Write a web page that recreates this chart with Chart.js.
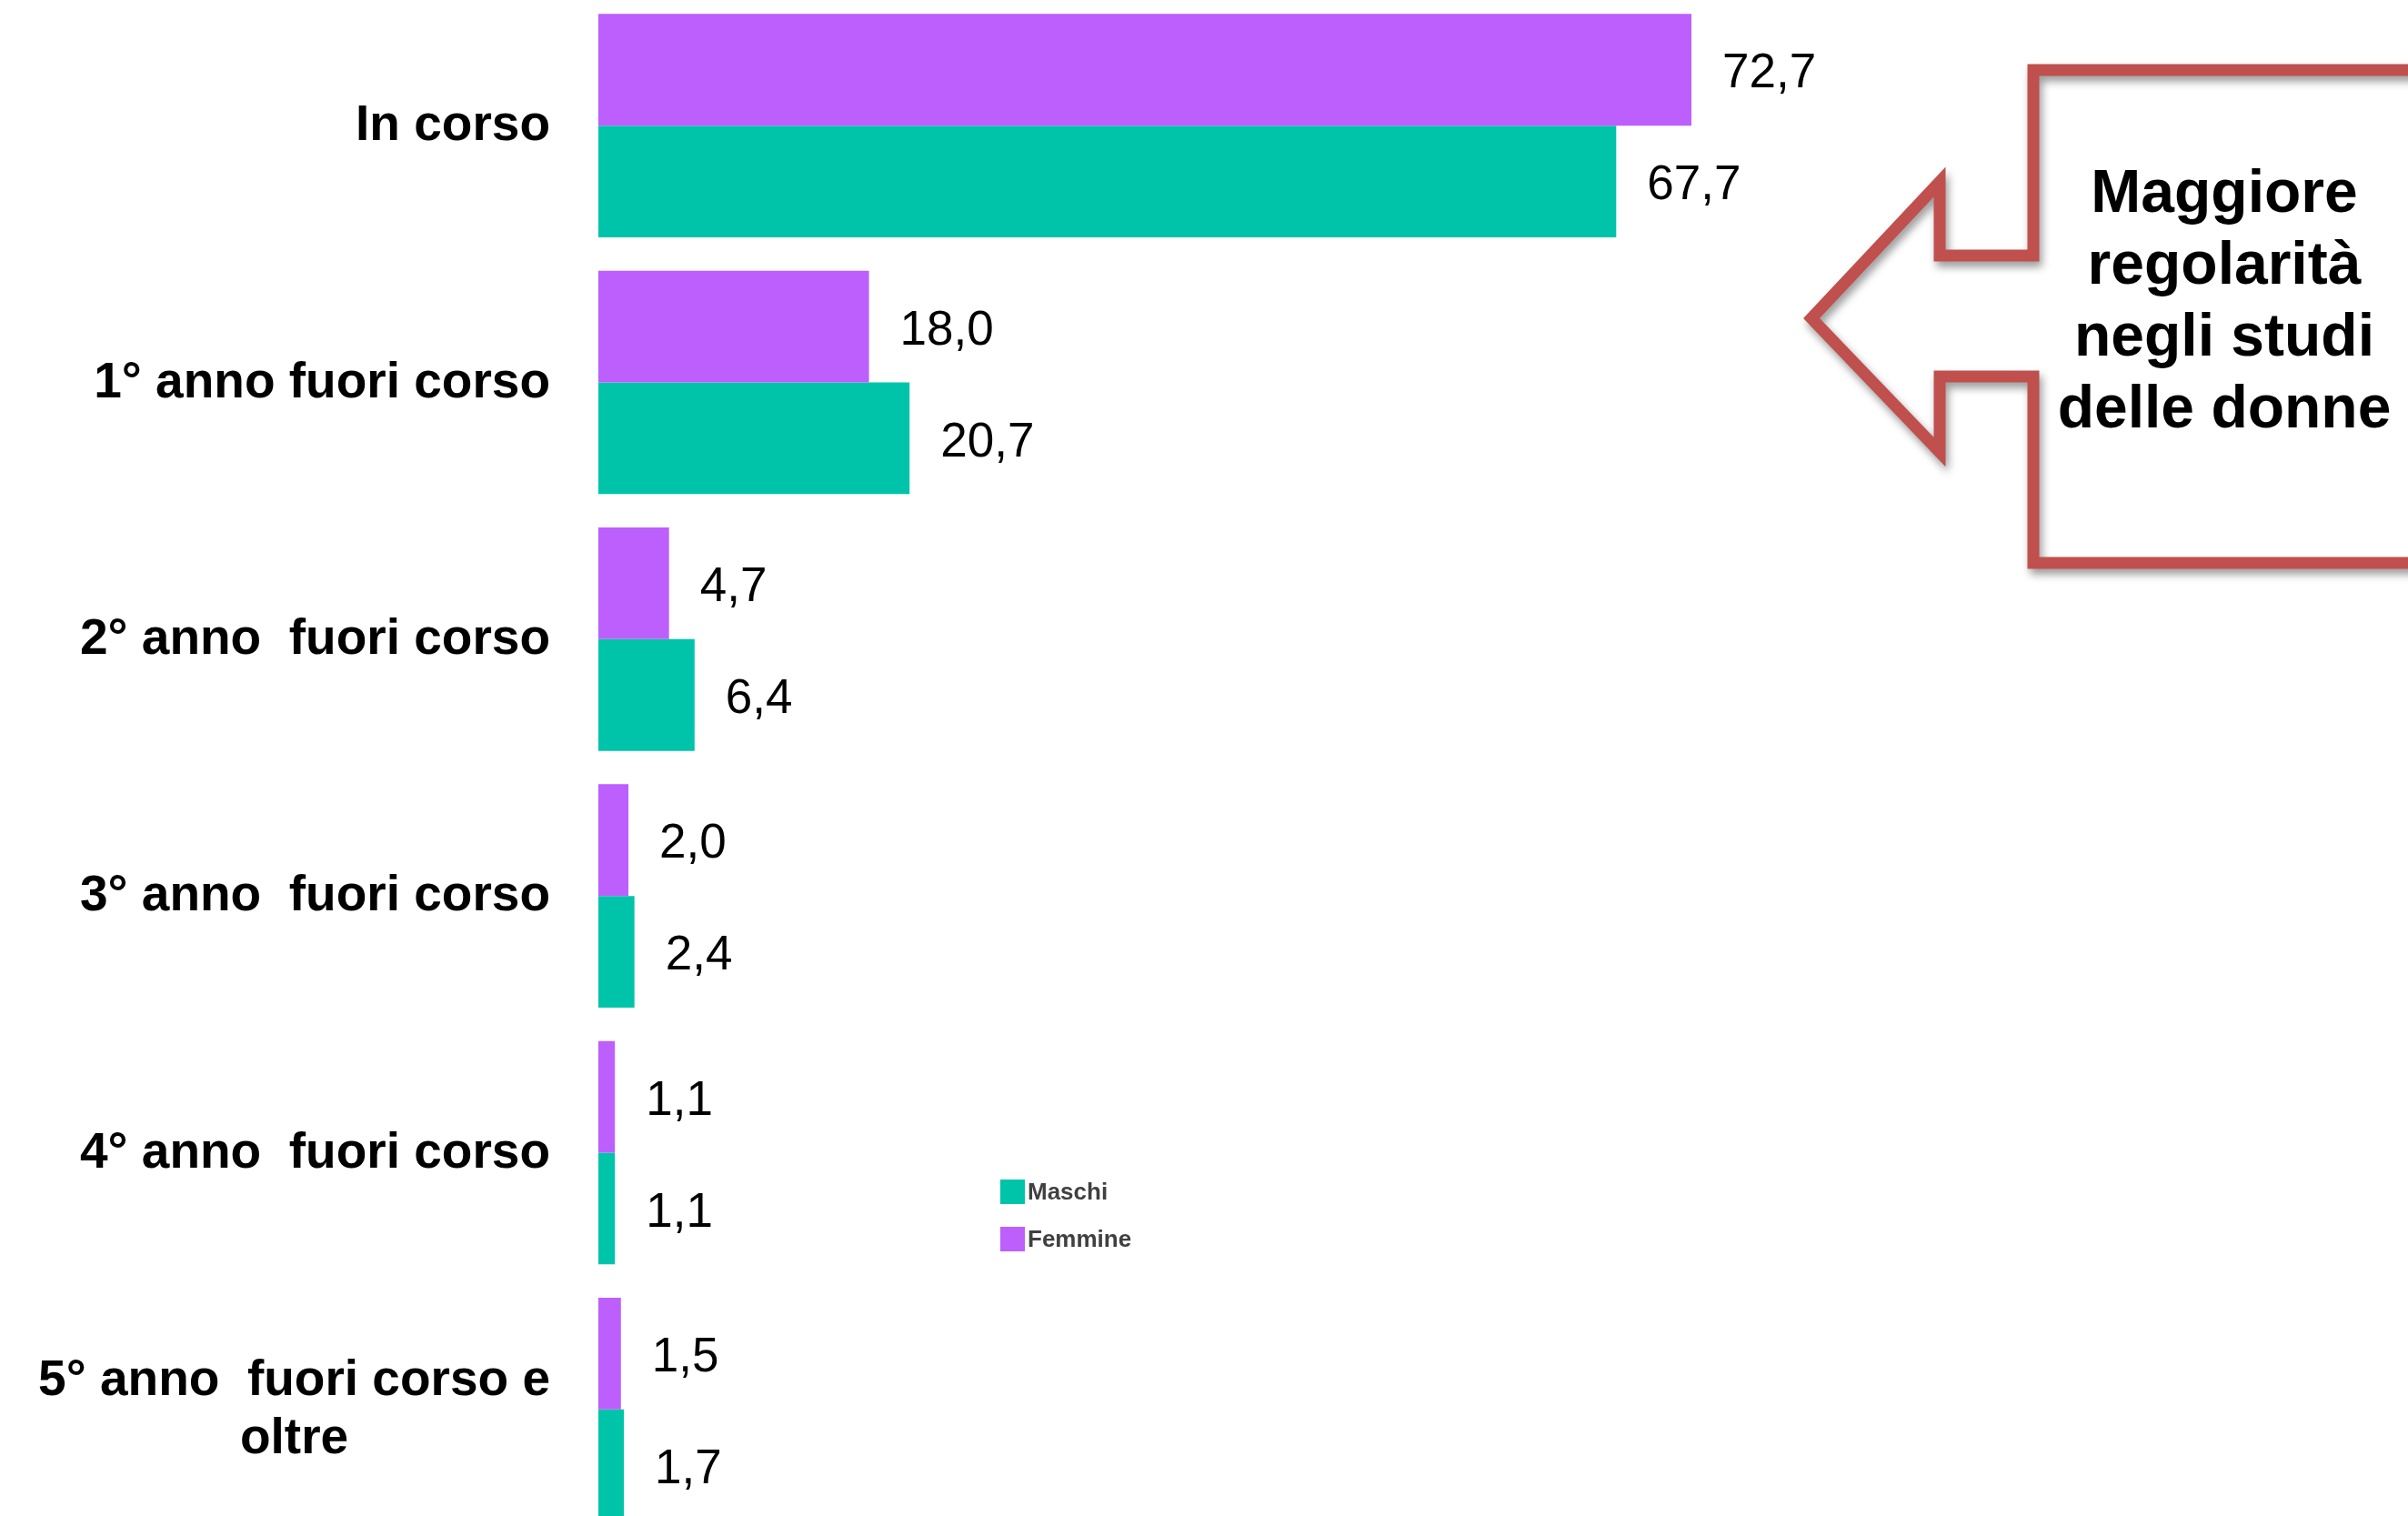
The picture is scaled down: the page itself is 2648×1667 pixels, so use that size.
<!DOCTYPE html>
<html>
<head>
<meta charset="utf-8">
<script src="https://cdn.jsdelivr.net/npm/chart.js@4.4.1/dist/chart.umd.min.js"></script>
<style>
  html, body { margin: 0; padding: 0; background: #fff; overflow: hidden; }
  #wrap { width: 2648px; height: 1667px; overflow: hidden; position: relative; }
  #myChart1 { position: absolute; left: 0; top: -3px; }
</style>
</head>
<body>
<div id="wrap">
  <canvas id="myChart1" width="2648" height="1694"></canvas>
</div>
<script>
const labels = [
  "In corso",
  "1° anno fuori corso",
  "2° anno  fuori corso",
  "3° anno  fuori corso",
  "4° anno  fuori corso",
  ["5° anno  fuori corso e", "oltre"]
];
const femmine = [72.7, 18.0, 4.7, 2.0, 1.1, 1.5];
const maschi = [67.7, 20.7, 6.4, 2.4, 1.1, 1.7];
const calloutText = ["Maggiore", "regolarità", "negli studi", "delle donne"];

const purple = "#BC5FFC";
const teal = "#00C4AA";

Chart.defaults.font.family = "'Liberation Sans', Arial, sans-serif";

function fmt(v){
  return v.toFixed(1).replace(".", ",");
}

// category names, drawn left of the bars (last one is two lines, centred)
const catLabels = {
  id: "catLabels",
  afterDraw(chart){
    const ctx = chart.ctx;
    const y = chart.scales.y;
    const right = chart.chartArea.left - 53;
    ctx.save();
    ctx.font = "bold 55px 'Liberation Sans', Arial, sans-serif";
    ctx.fillStyle = "#000";
    ctx.textAlign = "center";
    ctx.textBaseline = "middle";
    labels.forEach((lab, i) => {
      let lines = Array.isArray(lab) ? lab : [lab];
      let w = Math.max(...lines.map(l => ctx.measureText(l).width));
      let cx = right - w / 2;
      let cy = y.getPixelForValue(i) + 1;
      let lh = 64;
      lines.forEach((l, k) => {
        ctx.fillText(l, cx, cy + (k - (lines.length - 1) / 2) * lh);
      });
    });
    ctx.restore();
  }
};

// value labels at the end of each bar
const valueLabels = {
  id: "valueLabels",
  afterDatasetsDraw(chart){
    const ctx = chart.ctx;
    ctx.save();
    ctx.font = "53px 'Liberation Sans', Arial, sans-serif";
    ctx.fillStyle = "#000";
    ctx.textAlign = "left";
    ctx.textBaseline = "middle";
    chart.data.datasets.forEach((ds, di) => {
      chart.getDatasetMeta(di).data.forEach((bar, i) => {
        ctx.fillText(fmt(ds.data[i]), bar.x + 34, bar.y + 5);
      });
    });
    ctx.restore();
  }
};

// small legend in the middle of the plot, Maschi first
const smallLegend = {
  id: "smallLegend",
  afterDraw(chart){
    const ctx = chart.ctx;
    const items = [chart.data.datasets[1], chart.data.datasets[0]];
    ctx.save();
    ctx.font = "bold 26px 'Liberation Sans', Arial, sans-serif";
    ctx.textBaseline = "middle";
    items.forEach((ds, k) => {
      let top = 1300 + k * 52;
      ctx.fillStyle = ds.backgroundColor;
      ctx.fillRect(1100, top, 27, 27);
      ctx.fillStyle = "#404040";
      ctx.fillText(ds.label, 1130, top + 15);
    });
    ctx.restore();
  }
};

// red arrow callout on the right
const callout = {
  id: "callout",
  afterDraw(chart){
    const ctx = chart.ctx;
    const pts = [
      [2680, 77], [2236, 77], [2236, 281], [2133, 281], [2133, 200],
      [1992, 350], [2133, 497], [2133, 414], [2236, 414], [2236, 619], [2680, 619]
    ];
    ctx.save();
    ctx.translate(0, 3);
    ctx.beginPath();
    pts.forEach((p, i) => i ? ctx.lineTo(p[0], p[1]) : ctx.moveTo(p[0], p[1]));
    ctx.closePath();
    ctx.fillStyle = "#fff";
    ctx.fill();
    ctx.shadowColor = "rgba(0,0,0,0.4)";
    ctx.shadowBlur = 10;
    ctx.shadowOffsetX = 3;
    ctx.shadowOffsetY = 6;
    ctx.strokeStyle = "#C0504D";
    ctx.lineWidth = 13;
    ctx.lineJoin = "miter";
    ctx.stroke();
    ctx.shadowColor = "transparent";
    ctx.font = "bold 66px 'Liberation Sans', Arial, sans-serif";
    ctx.fillStyle = "#000";
    ctx.textAlign = "center";
    ctx.textBaseline = "alphabetic";
    calloutText.forEach((t, i) => {
      ctx.fillText(t, 2446, 233 + i * 79);
    });
    ctx.restore();
  }
};

function showChart(){
  const ctx = document.getElementById("myChart1");

  new Chart(ctx, {
    type: "bar",
    data: {
      labels: labels,
      datasets: [
        {
          label: "Femmine",
          data: femmine,
          backgroundColor: purple,
          borderWidth: 0,
        },
        {
          label: "Maschi",
          data: maschi,
          backgroundColor: teal,
          borderWidth: 0,
        }
      ],
    },
    options: {
      indexAxis: "y",
      responsive: false,
      animation: false,
      layout: { padding: { left: 0, right: 6, top: 0, bottom: 0 } },
      datasets: {
        bar: { categoryPercentage: 0.87, barPercentage: 1.0 }
      },
      plugins: {
        legend: { display: false },
        tooltip: { enabled: false },
      },
      scales: {
        x: {
          min: 0,
          max: 120,
          display: false,
          grid: { display: false },
        },
        y: {
          grid: { display: false },
          border: { display: false },
          ticks: { display: false },
          afterFit(scale){ scale.width = 658; }
        }
      }
    },
    plugins: [catLabels, valueLabels, smallLegend, callout]
  });
}

showChart();
</script>
</body>
</html>
